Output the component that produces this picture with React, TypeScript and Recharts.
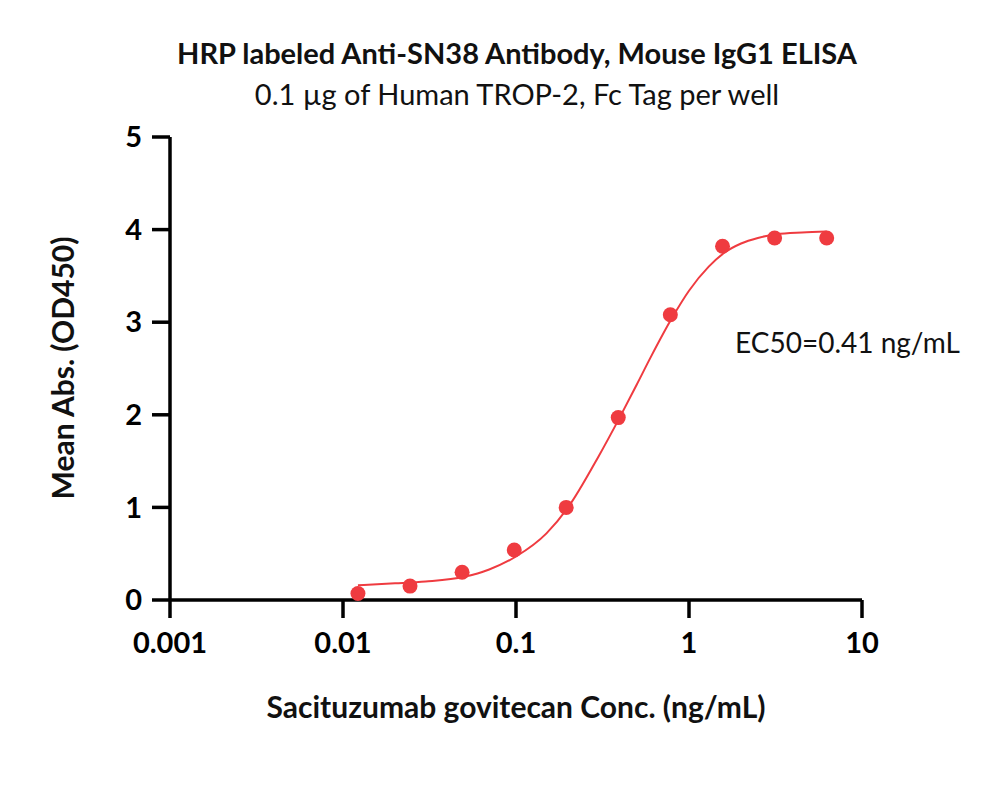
import { ComposedChart, Line, Scatter, XAxis, YAxis } from 'recharts';

// measured points (ng/mL, OD450)
const conc = [0.0122, 0.0244, 0.0488, 0.0977, 0.195, 0.39, 0.78, 1.5625, 3.125, 6.25];
const od = [0.07, 0.15, 0.3, 0.54, 1.0, 1.97, 3.08, 3.82, 3.91, 3.91];

// fitted curve
const curveX = [0.0122, 0.02, 0.03, 0.05, 0.07, 0.1, 0.15, 0.2, 0.3, 0.4, 0.5, 0.6, 0.8, 1.0, 1.3, 1.6, 2.0, 2.5, 3.2, 4.5, 6.25];
const curveY = [0.16, 0.18, 0.2, 0.25, 0.33, 0.47, 0.72, 1.0, 1.55, 1.98, 2.33, 2.62, 3.05, 3.34, 3.6, 3.75, 3.85, 3.91, 3.95, 3.97, 3.98];

const xTicks = [0.001, 0.01, 0.1, 1, 10];
const yTicks = [0, 1, 2, 3, 4, 5];

const points = conc.map((x, i) => ({ x, y: od[i] }));
const curve = curveX.map((x, i) => ({ x, y: curveY[i] }));

const RED = '#EF3B40';
const FONT = 'Lato, "Open Sans", sans-serif';

export default function App() {
  return (
    <div style={{ position: 'absolute', left: 0, top: 0, width: 1000, height: 796, background: '#fff', fontFamily: FONT }}>
      <div style={{ position: 'absolute', left: 0, width: 1034, top: 35, lineHeight: '35px', textAlign: 'center', fontWeight: 700, fontSize: 29, color: '#111' }}>
        HRP labeled Anti-SN38 Antibody, Mouse IgG1 ELISA
      </div>
      <div style={{ position: 'absolute', left: 0, width: 1034, top: 76, lineHeight: '35px', textAlign: 'center', fontSize: 29, color: '#111' }}>
        0.1 µg of Human TROP-2, Fc Tag per well
      </div>
      <ComposedChart
        width={1000}
        height={796}
        margin={{ top: 137, right: 138, left: 110, bottom: 136 }}
      >
        <XAxis
          type="number"
          dataKey="x"
          scale="log"
          domain={[0.001, 10]}
          ticks={xTicks}
          allowDataOverflow
          height={60}
          axisLine={{ stroke: '#000', strokeWidth: 3.5 }}
          tickLine={{ stroke: '#000', strokeWidth: 3.5 }}
          tickSize={18}
          tickMargin={14}
          tick={{ fill: '#000', fontSize: 29, fontWeight: 700, fontFamily: FONT }}
        />
        <YAxis
          type="number"
          dataKey="y"
          domain={[0, 5]}
          ticks={yTicks}
          width={60}
          axisLine={{ stroke: '#000', strokeWidth: 3.5 }}
          tickLine={{ stroke: '#000', strokeWidth: 3.5 }}
          tickSize={18}
          tickMargin={10}
          tick={{ fill: '#000', fontSize: 29, fontWeight: 700, fontFamily: FONT }}
        />
        <Line
          data={curve}
          dataKey="y"
          type="monotone"
          stroke={RED}
          strokeWidth={2}
          dot={false}
          isAnimationActive={false}
        />
        <Scatter
          data={points}
          dataKey="y"
          fill={RED}
          shape={(p: any) => <circle cx={p.cx} cy={p.cy} r={7.5} fill={RED} />}
          isAnimationActive={false}
        />
      </ComposedChart>
      <div style={{ position: 'absolute', left: 735, top: 325, lineHeight: '34px', fontSize: 28, color: '#111' }}>EC50=0.41 ng/mL</div>
      <div style={{ position: 'absolute', left: 516, top: 688, lineHeight: '36px', transform: 'translateX(-50%)', whiteSpace: 'nowrap', fontSize: 30, fontWeight: 700, color: '#111' }}>
        Sacituzumab govitecan Conc. (ng/mL)
      </div>
      <div style={{ position: 'absolute', left: 62, top: 368, lineHeight: '36px', transform: 'translate(-50%, -50%) rotate(-90deg)', whiteSpace: 'nowrap', fontSize: 30, fontWeight: 700, color: '#111' }}>
        Mean Abs. (OD450)
      </div>
    </div>
  );
}
